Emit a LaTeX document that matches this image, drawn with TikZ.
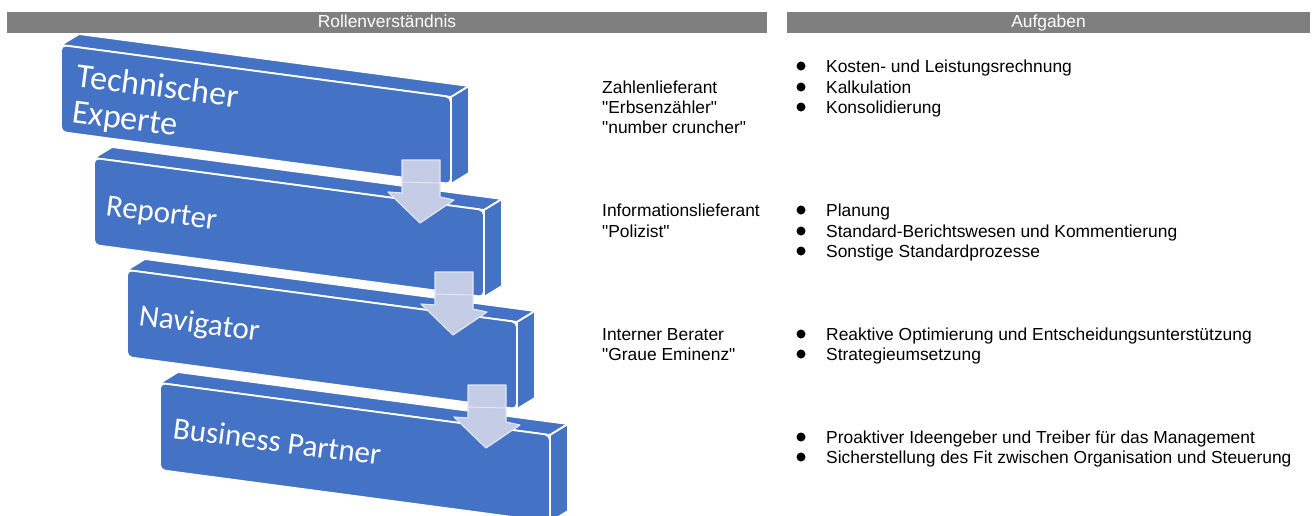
\documentclass[tikz,border=0pt]{standalone}
\usepackage{fontspec}
\setmainfont{Liberation Sans}
\newfontfamily\blockfont{Carlito}
\usetikzlibrary{arrows.meta,calc}
\definecolor{blockblue}{RGB}{68,114,196}
\definecolor{headgray}{RGB}{127,127,127}
\definecolor{arrowfill}{RGB}{197,205,230}
\definecolor{arrowedge}{RGB}{226,230,242}
\tikzset{
  face/.style={fill=blockblue,draw=white,line width=1.8pt,line join=round},
  blocklabel/.style={text=white,anchor=base west,inner sep=0pt,rotate=-7.5,font=\blockfont\fontsize{31}{36}\selectfont},
  headbar/.style={fill=headgray,text=white,minimum height=21pt,text height=12.5pt,text depth=3.5pt,inner sep=0pt,font=\fontsize{17.4}{20}\selectfont},
  txt/.style={anchor=base west,inner sep=0pt,font=\fontsize{17.4}{20}\selectfont},
  downarrow/.style={fill=arrowfill,draw=arrowedge,line width=1.2pt,line join=round}
}

\begin{document}
\begin{tikzpicture}[x=1pt,y=-1pt]
  \useasboundingbox (0,0) rectangle (1314,515);
  \node[headbar,minimum width=760pt] (rollen) at (387,22.5) {Rollenverständnis};
  \node[headbar,minimum width=523pt] (aufgaben) at (1048.5,22.5) {Aufgaben};
  \foreach \bx/\by in {61/45,94/158,127/270,160/383}{
    \draw[face] (\bx,\by) -- ++(18,-11) -- ++(390,52) -- ++(-18,11) -- cycle;
    \draw[face] (\bx+390,\by+52) -- ++(18,-11) -- ++(0,87) -- ++(-18,11) -- cycle;
    \draw[face,rounded corners=5pt] (\bx,\by) -- ++(390,52) -- ++(0,87) -- ++(-390,-52) -- cycle;
  }
  \node[blocklabel,align=left,font=\blockfont\fontsize{34}{36}\selectfont] (technisch) at (71,122) {Technischer\\Experte};
  \node[blocklabel] (reporter) at (105,215) {Reporter};
  \node[blocklabel] (navigator) at (138,325) {Navigator};
  \node[blocklabel] (partner) at (172,438) {Business Partner};
  \foreach \ax/\ay in {421/160,454/272,487/385}{
    \draw[downarrow] (\ax-19,\ay) -- (\ax+19,\ay) -- (\ax+19,\ay+37) -- (\ax+33,\ay+40) -- (\ax-1,\ay+63) -- (\ax-33,\ay+32) -- (\ax-19,\ay+33) -- cycle;
    \draw[arrowedge,line width=1pt] (\ax-19,\ay+22) -- (\ax+19,\ay+23);
  }
  \foreach \n/\yy/\t in {z1/93/Zahlenlieferant,z2/113/\textquotedbl Erbsenzähler\textquotedbl,
      z3/133/\textquotedbl number cruncher\textquotedbl,i1/216/Informationslieferant,
      i2/237/\textquotedbl Polizist\textquotedbl,b1/340/Interner Berater,
      b2/360/\textquotedbl Graue Eminenz\textquotedbl}{
    \node[txt] (\n) at (602,\yy) {\t};
  }
  \foreach \n/\yy/\t in {t1/72/Kosten- und Leistungsrechnung,t2/93/Kalkulation,t3/113/Konsolidierung,
      t4/216/Planung,t5/237/Standard-Berichtswesen und Kommentierung,t6/257/Sonstige Standardprozesse,
      t7/340/Reaktive Optimierung und Entscheidungsunterstützung,t8/360/Strategieumsetzung,
      t9/443/Proaktiver Ideengeber und Treiber für das Management,
      t10/463/Sicherstellung des Fit zwischen Organisation und Steuerung}{
    \node[txt] (\n) at (826,\yy) {\t};
    \fill ([xshift=-25pt,yshift=6pt]\n.base west) circle (4.5pt);
  }
\end{tikzpicture}
\end{document}
